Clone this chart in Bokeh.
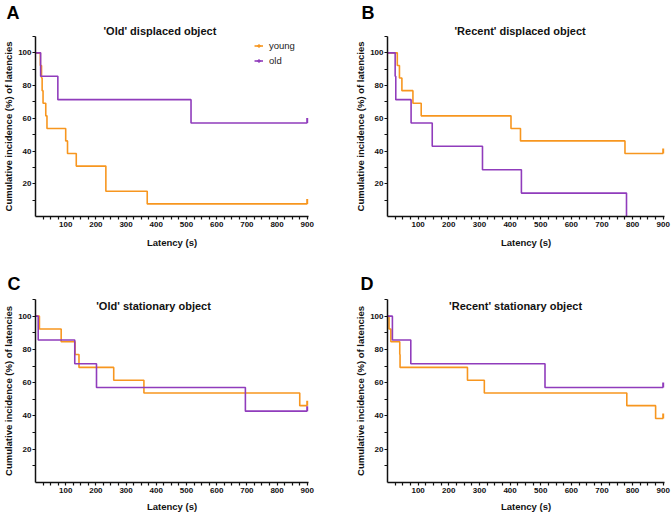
import math
from bokeh.plotting import figure
from bokeh.models import Range1d, FixedTicker, Label, Legend, LegendItem, Title
from bokeh.layouts import gridplot
from bokeh.embed import file_html
from bokeh.resources import INLINE

# ---------------- data ----------------
panel_letters = ["A", "B", "C", "D"]
panel_titles = ["'Old' displaced object", "'Recent' displaced object",
                "'Old' stationary object", "'Recent' stationary object"]
series_names = ["young", "old"]

# Kaplan-Meier style step curves: time (s) and cumulative incidence (%)
a_young_t = [0, 16, 20, 22, 25, 34, 38, 100, 106, 135, 233, 370, 900]
a_young_y = [100, 92.3, 84.6, 76.9, 69.2, 61.5, 53.8, 46.2, 38.5, 30.8, 15.4, 7.7, 7.7]
a_old_t = [0, 17, 74, 515, 900]
a_old_y = [100, 85.7, 71.4, 57.1, 57.1]

b_young_t = [0, 32, 39, 47, 83, 110, 403, 434, 775, 900]
b_young_y = [100, 92.3, 84.6, 76.9, 69.2, 61.5, 53.8, 46.2, 38.5, 38.5]
b_old_t = [0, 25, 27, 77, 146, 310, 437, 780]
b_old_y = [100, 85.7, 71.4, 57.1, 42.9, 28.6, 14.3, 0]

c_young_t = [0, 13, 85, 131, 144, 259, 359, 875, 900]
c_young_y = [100, 92.3, 84.6, 76.9, 69.2, 61.5, 53.8, 46.2, 46.2]
c_old_t = [0, 9, 130, 202, 695, 900]
c_old_y = [100, 85.7, 71.4, 57.1, 42.9, 42.9]

d_young_t = [0, 5, 11, 40, 41, 261, 316, 781, 875, 900]
d_young_y = [100, 92.3, 84.6, 76.9, 69.2, 61.5, 53.8, 46.2, 38.5, 38.5]
d_old_t = [0, 16, 76, 514, 900]
d_old_y = [100, 85.7, 71.4, 57.1, 57.1]

# censored observations (end of test)
a_young_cens_t, a_young_cens_y = [900], [7.7]
a_old_cens_t, a_old_cens_y = [900], [57.1]
b_young_cens_t, b_young_cens_y = [900], [38.5]
b_old_cens_t, b_old_cens_y = [], []
c_young_cens_t, c_young_cens_y = [900], [46.2]
c_old_cens_t, c_old_cens_y = [900], [42.9]
d_young_cens_t, d_young_cens_y = [900], [38.5]
d_old_cens_t, d_old_cens_y = [900], [57.1]

x_major_ticks = [100, 200, 300, 400, 500, 600, 700, 800, 900]
x_minor_ticks = [25, 50, 75, 125, 150, 175, 225, 250, 275, 325, 350, 375, 425, 450, 475,
                 525, 550, 575, 625, 650, 675, 725, 750, 775, 825, 850, 875]
y_major_ticks = [20, 40, 60, 80, 100]
y_minor_ticks = [10, 30, 50, 70, 90, 110]

x_label = "Latency (s)"
y_label = "Cumulative incidence (%) of latencies"

# ---------------- style ----------------
ORANGE = "#F7961F"
PURPLE = "#903CBC"
FONT = "Liberation Sans"


def make_panel(idx, yt, yy, ot, oy, yct, ycy, oct_, ocy, width, height, borders,
               letter_offset, letter_standoff, title_mode, title_pos,
               xlabel_standoff, show_legend=False):
    left, right, top, bottom = borders
    p = figure(width=width, height=height, output_backend="svg", toolbar_location=None,
               x_range=Range1d(0, 904), y_range=Range1d(0, 110), title=None,
               min_border_left=left, min_border_right=right,
               min_border_top=top, min_border_bottom=bottom)
    p.outline_line_color = None
    p.xgrid.visible = False
    p.ygrid.visible = False

    for ax in (p.xaxis[0], p.yaxis[0]):
        ax.axis_line_width = 1.5
        ax.axis_line_color = "#111111"
        ax.major_tick_line_color = "#111111"
        ax.minor_tick_line_color = "#111111"
        ax.major_tick_line_width = 1.2
        ax.minor_tick_line_width = 1.2
        ax.major_tick_in = 0
        ax.major_tick_out = 3
        ax.minor_tick_in = 0
        ax.minor_tick_out = 3
        ax.major_label_text_font = FONT
        ax.major_label_text_font_size = "8px"
        ax.major_label_text_font_style = "bold"
        ax.major_label_text_color = "#111111"
        ax.axis_label_text_font = FONT
        ax.axis_label_text_font_size = "9.5px"
        ax.axis_label_text_font_style = "bold"
        ax.axis_label_text_color = "#111111"

    p.xaxis.major_label_standoff = 2
    p.yaxis.major_label_standoff = 1
    p.xaxis.ticker = FixedTicker(ticks=x_major_ticks, minor_ticks=x_minor_ticks)
    p.yaxis.ticker = FixedTicker(ticks=y_major_ticks, minor_ticks=y_minor_ticks)
    p.xaxis.axis_label = x_label
    p.yaxis.axis_label = y_label
    p.xaxis.axis_label_standoff = xlabel_standoff
    p.yaxis.axis_label_standoff = 1

    r_y = p.step(yt, yy, mode="after", line_color=ORANGE, line_width=1.6)
    r_o = p.step(ot, oy, mode="after", line_color=PURPLE, line_width=1.6)
    if yct:
        p.ray(yct, ycy, length=5, length_units="screen", angle=math.pi / 2,
              line_color=ORANGE, line_width=2.2)
    if oct_:
        p.ray(oct_, ocy, length=5, length_units="screen", angle=math.pi / 2,
              line_color=PURPLE, line_width=2.2)

    if title_mode == "above":
        p.add_layout(Title(text=panel_titles[idx], align="left", offset=title_pos,
                           standoff=0, text_font=FONT, text_font_size="11px",
                           text_font_style="bold", text_color="#111111"), "above")
    else:
        p.add_layout(Label(x=title_pos, y=110, text=panel_titles[idx], text_font=FONT,
                           text_font_size="11px", text_font_style="bold",
                           text_color="#111111", text_align="center",
                           text_baseline="top"))
    p.add_layout(Title(text=panel_letters[idx], align="left", offset=letter_offset,
                       standoff=letter_standoff, text_font=FONT, text_font_size="18px",
                       text_font_style="bold", text_color="#000000"), "above")

    if show_legend:
        m_y = p.scatter(yct, ycy, marker="cross", size=0.1, line_color=ORANGE, line_width=1.5)
        m_o = p.scatter(oct_, ocy, marker="cross", size=0.1, line_color=PURPLE, line_width=1.5)
        legend = Legend(items=[LegendItem(label=series_names[0], renderers=[r_y, m_y]),
                               LegendItem(label=series_names[1], renderers=[r_o, m_o])],
                        location=(219, 150), orientation="vertical")
        legend.glyph_width = 9
        legend.glyph_height = 11
        legend.label_height = 11
        legend.spacing = 4
        legend.padding = 0
        legend.margin = 0
        legend.label_standoff = 6
        legend.label_text_font = FONT
        legend.label_text_font_size = "9.5px"
        legend.label_text_color = "#222222"
        legend.background_fill_alpha = 0
        legend.border_line_alpha = 0
        p.add_layout(legend, "center")
    return p


pa = make_panel(0, a_young_t, a_young_y, a_old_t, a_old_y, a_young_cens_t, a_young_cens_y,
                a_old_cens_t, a_old_cens_y, 336, 258, (33, 28, 33, 42),
                -29, 0, "above", 68, 7, True)
pb = make_panel(1, b_young_t, b_young_y, b_old_t, b_old_y, b_young_cens_t, b_young_cens_y,
                b_old_cens_t, b_old_cens_y, 336, 258, (51, 8, 32, 42),
                -26, 0, "above", 67, 7)
pc = make_panel(2, c_young_t, c_young_y, c_old_t, c_old_y, c_young_cens_t, c_young_cens_y,
                c_old_cens_t, c_old_cens_y, 336, 258, (33, 26, 41, 34),
                -28, 12, "inside", 391, 5)
pd = make_panel(3, d_young_t, d_young_y, d_old_t, d_old_y, d_young_cens_t, d_young_cens_y,
                d_old_cens_t, d_old_cens_y, 336, 258, (51, 8, 41, 34),
                -27, 12, "inside", 418, 5)

grid = gridplot([[pa, pb], [pc, pd]], toolbar_location=None)

open("out.html", "w").write(file_html(grid, INLINE))
